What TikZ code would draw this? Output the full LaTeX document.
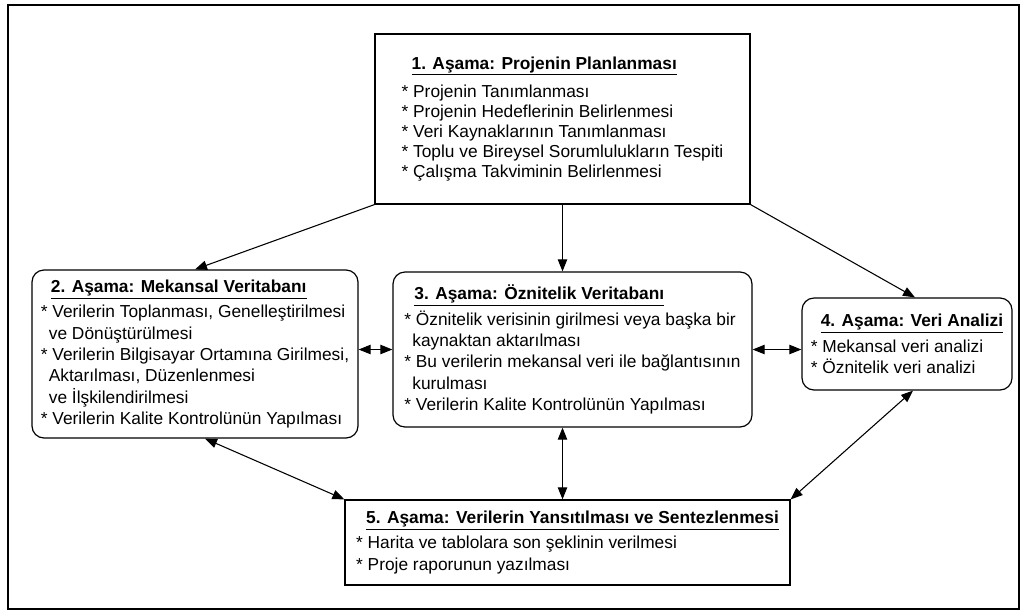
\documentclass[tikz,border=0pt]{standalone}
\usepackage{fontspec}
\setmainfont{Liberation Sans}
\usetikzlibrary{
    arrows.meta,
    positioning
}
\newcommand{\baslik}[1]{\hspace*{7.5pt}\textbf{\underline{#1}}}
\newcommand{\devam}{\hspace*{6pt}}

\begin{document}
\begin{tikzpicture}[
        x=0.75pt, y=-0.75pt,
        >={Triangle[length=9pt, width=7pt]},
        asama/.style={
            draw,
            line width=0.9pt,
            align=left,
            inner sep=0pt,
            font=\fontsize{13}{16}\selectfont
        },
        yuvarlak/.style={
            asama,
            rounded corners=9pt
        },
        baglanti/.style={
            line width=0.8pt
        }
    ]
        \useasboundingbox (0,0) rectangle (1027,615);
        \draw[line width=1.5pt] (8,5) rectangle (1019,609);

        \node[asama, minimum width=281.25pt, minimum height=127.5pt,
            font=\fontsize{13}{15}\selectfont] (A1) at (562.5,119) {%
            \baslik{1. Aşama: Projenin Planlanması}\\[6.5pt]
            * Projenin Tanımlanması\\
            * Projenin Hedeflerinin Belirlenmesi\\
            * Veri Kaynaklarının Tanımlanması\\
            * Toplu ve Bireysel Sorumlulukların Tespiti\\
            * Çalışma Takviminin Belirlenmesi};
        \node[yuvarlak, minimum width=244.5pt, minimum height=126pt] (A2) at (195,354) {%
            \baslik{2. Aşama: Mekansal Veritabanı}\\[3pt]
            * Verilerin Toplanması, Genelleştirilmesi\\
            \devam ve Dönüştürülmesi\\
            * Verilerin Bilgisayar Ortamına Girilmesi,\\
            \devam Aktarılması, Düzenlenmesi\\
            \devam ve İlşkilendirilmesi\\
            * Verilerin Kalite Kontrolünün Yapılması};
        \node[yuvarlak, minimum width=269.25pt, minimum height=116.25pt] (A3) at (572.5,349.5) {%
            \baslik{3. Aşama: Öznitelik Veritabanı}\\[3pt]
            * Öznitelik verisinin girilmesi veya başka bir\\
            \devam kaynaktan aktarılması\\
            * Bu verilerin mekansal veri ile bağlantısının\\
            \devam kurulması\\
            * Verilerin Kalite Kontrolünün Yapılması};
        \node[yuvarlak, minimum width=157.5pt, minimum height=69pt] (A4) at (907,344) {%
            \baslik{4. Aşama: Veri Analizi}\\[3pt]
            * Mekansal veri analizi\\
            * Öznitelik veri analizi};
        \node[asama, minimum width=333.75pt, minimum height=63.75pt] (A5) at (567.5,542.5) {%
            \baslik{5. Aşama: Verilerin Yansıtılması ve Sentezlenmesi}\\[3pt]
            * Harita ve tablolara son şeklinin verilmesi\\
            * Proje raporunun yazılması};

        \draw[->, baglanti] (A1.south west) -- (A2.north);
        \draw[->, baglanti] (A1.south) -- (A1.south |- A3.north);
        \draw[->, baglanti] (A1.south east) -- ([xshift=6pt]A4.north);
        \draw[<->, baglanti] (A3.west -| A2.east) -- (A3.west);
        \draw[<->, baglanti] (A3.east) -- (A3.east -| A4.west);
        \draw[<->, baglanti] ([xshift=7.5pt]A2.south) -- (A5.north west);
        \draw[<->, baglanti] (A3.south -| A1.south) -- (A5.north -| A1.south);
        \draw[<->, baglanti] ([xshift=4.5pt]A4.south) -- (A5.north east);
    \end{tikzpicture}
\end{document}
